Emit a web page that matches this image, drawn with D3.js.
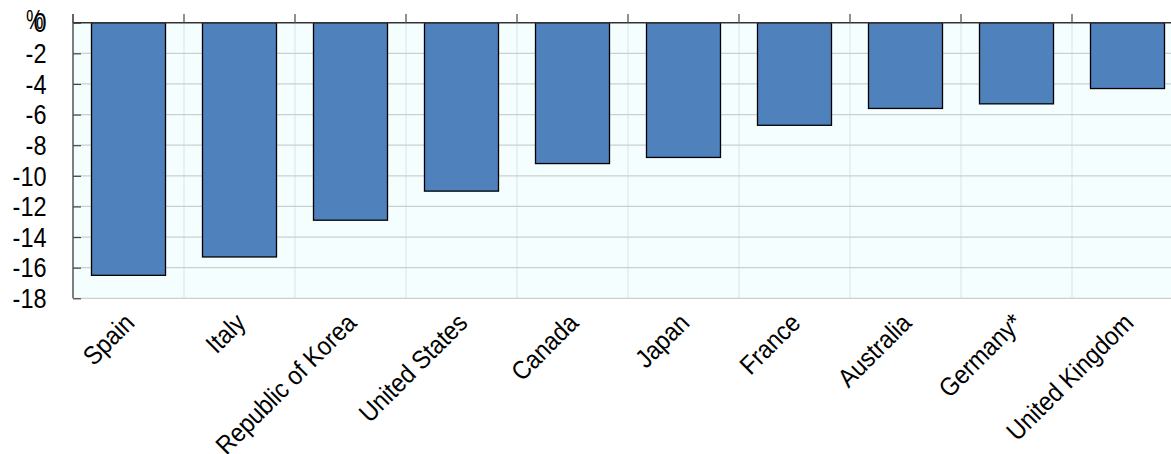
<!DOCTYPE html>
<html>
<head>
<meta charset="utf-8">
<script src="https://cdn.jsdelivr.net/npm/d3@7"></script>
<style>
  body { margin: 0; background: #fff; }
  text { font-family: "Liberation Sans", Arial, sans-serif; fill: #000; }
</style>
</head>
<body>
<div id="chart"></div>
<script>
// ---- data ----
var countries = ["Spain", "Italy", "Republic of Korea", "United States", "Canada",
  "Japan", "France", "Australia", "Germany*", "United Kingdom"];
var values = [-16.5, -15.3, -12.9, -11.0, -9.2, -8.8, -6.7, -5.6, -5.3, -4.3];
var yTicks = [0, -2, -4, -6, -8, -10, -12, -14, -16, -18];

var data = countries.map(function(c, i) { return { name: c, value: values[i] }; });

// ---- layout ----
var svgWidth = 1171;
var svgHeight = 454;
var margin = { top: 22.7, left: 73, bottom: 298.3 };
var plotRight = 1183; // plot runs past the window edge

var svg = d3.select("#chart")
  .append("svg")
  .attr("width", svgWidth)
  .attr("height", svgHeight);

var x = d3.scaleBand()
  .domain(countries)
  .range([margin.left, plotRight])
  .paddingInner(1 / 3)
  .paddingOuter(1 / 6);

var y = d3.scaleLinear()
  .domain([0, -18])
  .range([margin.top, margin.bottom]);

// plot background
svg.append("rect")
  .attr("x", margin.left)
  .attr("y", margin.top)
  .attr("width", plotRight - margin.left)
  .attr("height", margin.bottom - margin.top)
  .attr("fill", "#f4fefe");

// vertical gridlines at category boundaries
var step = x.step();
var bounds = d3.range(countries.length + 1).map(function(i) { return margin.left + i * step; });
svg.append("g")
  .selectAll("line")
  .data(bounds.slice(1))
  .enter()
  .append("line")
  .attr("x1", d => d).attr("x2", d => d)
  .attr("y1", margin.top).attr("y2", margin.bottom)
  .attr("stroke", "#e2e6e6")
  .attr("stroke-width", 1.2);

// horizontal gridlines
svg.append("g")
  .selectAll("line")
  .data(yTicks.slice(1))
  .enter()
  .append("line")
  .attr("x1", margin.left).attr("x2", plotRight)
  .attr("y1", d => y(d)).attr("y2", d => y(d))
  .attr("stroke", "#cbcfcf")
  .attr("stroke-width", 1.2);

// bars
svg.append("g")
  .selectAll("rect")
  .data(data)
  .enter()
  .append("rect")
  .attr("x", d => x(d.name))
  .attr("y", y(0))
  .attr("width", x.bandwidth())
  .attr("height", d => y(d.value) - y(0))
  .attr("fill", "#4f81bd")
  .attr("stroke", "#000")
  .attr("stroke-width", 1.3);

// left axis (ticks pointing inward)
var leftAxis = d3.axisRight(y)
  .tickValues(yTicks)
  .tickSize(8)
  .tickFormat("");
var leftG = svg.append("g")
  .attr("transform", `translate(${margin.left},0)`)
  .call(leftAxis);
leftG.select(".domain").remove();
leftG.selectAll(".tick line").attr("stroke", "#444").attr("stroke-width", 1.2);
svg.append("line")
  .attr("x1", margin.left).attr("x2", margin.left)
  .attr("y1", 14).attr("y2", margin.bottom)
  .attr("stroke", "#555")
  .attr("stroke-width", 1.5);

// y tick labels (narrow, tall glyphs like the original)
svg.append("g")
  .selectAll("text")
  .data(yTicks)
  .enter()
  .append("text")
  .attr("transform", d => `translate(46.5,${y(d)}) scale(0.87,1)`)
  .attr("dy", "0.36em")
  .attr("text-anchor", "end")
  .attr("font-size", "27px")
  .text(d => d === 0 ? "0" : d3.format("d")(d).replace("−", "-"));

// unit label (overlaps the zero label, as in the original)
svg.append("text")
  .attr("transform", "translate(26,29) scale(0.7,1)")
  .attr("font-size", "28px")
  .text("%");

// top zero line with category separator ticks
svg.append("line")
  .attr("x1", margin.left).attr("x2", plotRight)
  .attr("y1", y(0)).attr("y2", y(0))
  .attr("stroke", "#333")
  .attr("stroke-width", 1.5);
svg.append("g")
  .selectAll("line")
  .data(bounds)
  .enter()
  .append("line")
  .attr("x1", d => d).attr("x2", d => d)
  .attr("y1", 14).attr("y2", y(0))
  .attr("stroke", "#555")
  .attr("stroke-width", 1.3);

// category labels, rotated
svg.append("g")
  .selectAll("text")
  .data(countries)
  .enter()
  .append("text")
  .attr("transform", d => `translate(${x(d) + x.bandwidth() / 2 + 1},${318}) rotate(-45) scale(0.9,1)`)
  .attr("text-anchor", "end")
  .attr("dy", "0.35em")
  .attr("font-size", "26px")
  .text(d => d);
</script>
</body>
</html>
